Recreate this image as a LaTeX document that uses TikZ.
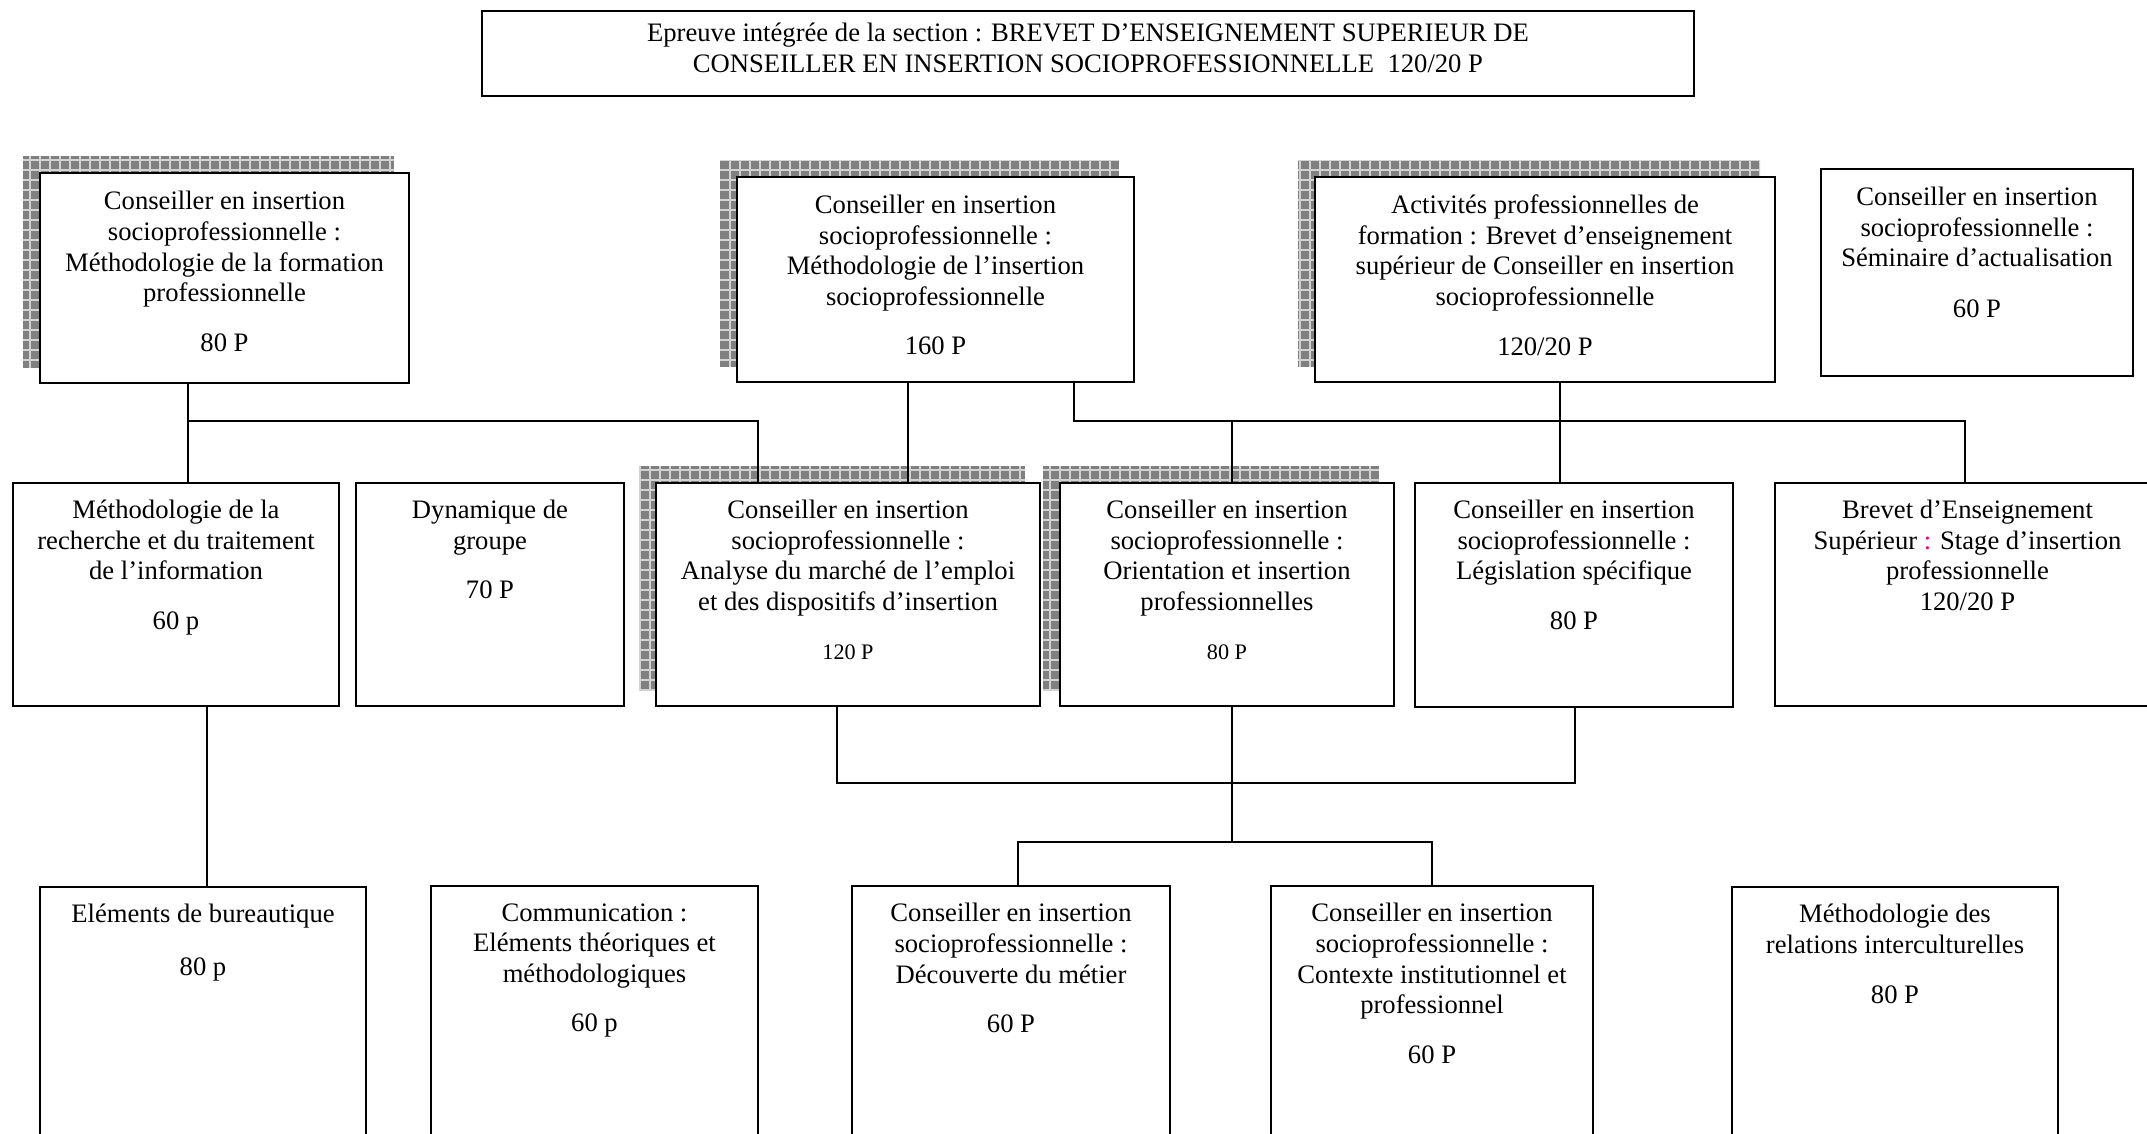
\documentclass[tikz,border=0pt]{standalone}
\usepackage{fontspec}
\setmainfont{Liberation Serif}
\usepackage{tikz}
\usetikzlibrary{fit,backgrounds}

\tikzset{
  boite/.style={draw, fill=white, line width=0.9pt, inner sep=0pt},
  texte/.style={anchor=north, align=center, inner sep=0pt, font=\fontsize{12}{13.8}\selectfont, execute at begin node=\strut},
  lien/.style={line width=0.8pt},
  ombre/.style={fill=gray},
  grille/.style={draw=gray!35, line width=0.5pt}
}

\begin{document}
\begin{tikzpicture}[x=0.4505pt, y=-0.4505pt]
	\useasboundingbox (0,0) rectangle (2147,1133);
	\clip (0,0) rectangle (2147,1133);

	% title
	\node[boite, line width=1pt, fit={(482,11) (1694,96)}] (T) {};
	\node[texte, anchor=center] (Tt) at ([shift={(0,-1)}]T.center) {Epreuve intégrée de la section : BREVET D’ENSEIGNEMENT SUPERIEUR DE\\ CONSEILLER EN INSERTION SOCIOPROFESSIONNELLE\ \ 120/20 P};

	% first row
	\node[boite, fit={(40,173) (409,383)}] (A) {};
	\node[boite, fit={(737,177) (1134,382)}] (B) {};
	\node[boite, fit={(1315,177) (1775,382)}] (C) {};
	\node[boite, fit={(1821,169) (2133,376)}] (D) {};
	\node[texte] (At) at ([shift={(0,19)}]A.north) {Conseiller en insertion\\ socioprofessionnelle :\\ Méthodologie de la formation\\ professionnelle\\[8.5pt] 80 P};
	\node[texte] (Bt) at ([shift={(0,18.5)}]B.north) {Conseiller en insertion\\ socioprofessionnelle :\\ Méthodologie de l’insertion\\ socioprofessionnelle\\[8.5pt] 160 P};
	\node[texte] (Ct) at ([shift={(0,18.5)}]C.north) {Activités professionnelles de\\ formation : Brevet d’enseignement\\ supérieur de Conseiller en insertion\\ socioprofessionnelle\\[8.5pt] 120/20 P};
	\node[texte] (Dt) at ([shift={(0,18.5)}]D.north) {Conseiller en insertion\\ socioprofessionnelle :\\ Séminaire d’actualisation\\[9pt] 60 P};

	% second row
	\node[boite, fit={(13,483) (339,706)}] (M1) {};
	\node[boite, fit={(356,483) (624,706)}] (M2) {};
	\node[boite, fit={(656,483) (1040,706)}] (M3) {};
	\node[boite, fit={(1060,483) (1394,706)}] (M4) {};
	\node[boite, fit={(1415,483) (1733,707)}] (M5) {};
	\node[boite, fit={(1775,483) (2160,706)}] (M6) {};
	\node[texte] (M1t) at ([shift={(0,17.5)}]M1.north) {Méthodologie de la\\ recherche et du traitement\\ de l’information\\[8.5pt] 60 p};
	\node[texte] (M2t) at ([shift={(0,17.5)}]M2.north) {Dynamique de\\ groupe\\[8.5pt] 70 P};
	\node[texte] (M3t) at ([shift={(0,17.5)}]M3.north) {Conseiller en insertion\\ socioprofessionnelle :\\ Analyse du marché de l’emploi\\ et des dispositifs d’insertion\\[8.5pt] {\fontsize{10}{12}\selectfont 120 P}};
	\node[texte] (M4t) at ([shift={(0,17.5)}]M4.north) {Conseiller en insertion\\ socioprofessionnelle :\\ Orientation et insertion\\ professionnelles\\[8.5pt] {\fontsize{10}{12}\selectfont 80 P}};
	\node[texte] (M5t) at ([shift={(0,17.5)}]M5.north) {Conseiller en insertion\\ socioprofessionnelle :\\ Législation spécifique\\[8.5pt] 80 P};
	\node[texte] (M6t) at ([shift={(0,17.5)}]M6.north) {Brevet d’Enseignement\\ Supérieur {\color{magenta}:} Stage d’insertion\\ professionnelle\\ 120/20 P};

	% third row
	\node[boite, fit={(40,887) (366,1160)}] (B1) {};
	\node[boite, fit={(431,886) (758,1160)}] (B2) {};
	\node[boite, fit={(852,886) (1170,1160)}] (B3) {};
	\node[boite, fit={(1271,886) (1593,1160)}] (B4) {};
	\node[boite, fit={(1732,887) (2058,1160)}] (B5) {};
	\node[texte] (B1t) at ([shift={(0,18)}]B1.north) {Eléments de bureautique\\[10pt] 80 p};
	\node[texte] (B2t) at ([shift={(0,18)}]B2.north) {Communication :\\ Eléments théoriques et\\ méthodologiques\\[8.5pt] 60 p};
	\node[texte] (B3t) at ([shift={(0,18)}]B3.north) {Conseiller en insertion\\ socioprofessionnelle :\\ Découverte du métier\\[8.5pt] 60 P};
	\node[texte] (B4t) at ([shift={(0,18)}]B4.north) {Conseiller en insertion\\ socioprofessionnelle :\\ Contexte institutionnel et\\ professionnel\\[8.5pt] 60 P};
	\node[texte] (B5t) at ([shift={(0,18)}]B5.north) {Méthodologie des\\ relations interculturelles\\[8.5pt] 80 P};

	% shadows
	\begin{scope}[on background layer]
		\foreach \n in {A,B,C,M3,M4} {
			\begin{scope}
				\clip ([shift={(-16,-16)}]\n.south west) rectangle ([shift={(-16,-16)}]\n.north east);
				\fill[ombre] ([shift={(-16,-16)}]\n.south west) rectangle ([shift={(-16,-16)}]\n.north east);
				\draw[grille, step=4.505pt] ([shift={(-16,-16)}]\n.south west) grid ([shift={(-16,-16)}]\n.north east);
			\end{scope}
		}
	\end{scope}

	% joints
	\coordinate (jA) at (188,421);
	\coordinate (jA3) at (758,421);
	\coordinate (jB) at (908,421);
	\coordinate (jB1) at (1074,421);
	\coordinate (jB4) at (1232,421);
	\coordinate (jB6) at (1965,421);
	\coordinate (jC) at (1560,421);
	\coordinate (jM1) at (207,800);
	\coordinate (jM3) at (837,783);
	\coordinate (jM5) at (1575,783);
	\coordinate (jD) at (1232,842);
	\coordinate (jD3) at (1018,842);
	\coordinate (jD4) at (1432,842);

	% connectors
	\draw[lien] (A.south -| jA) -- (M1.north -| jA);
	\draw[lien] (jA) -- (jA3) -- (M3.north -| jA3);
	\draw[lien] (B.south -| jB) -- (M3.north -| jB);
	\draw[lien] (B.south -| jB1) -- (jB1) -- (jB6) -- (M6.north -| jB6);
	\draw[lien] (jB4) -- (M4.north -| jB4);
	\draw[lien] (C.south -| jC) -- (M5.north -| jC);
	\draw[lien] (M1.south -| jM1) -- (B1.north -| jM1);
	\draw[lien] (M3.south -| jM3) -- (jM3) -- (jM5) -- (M5.south -| jM5);
	\draw[lien] (M4.south -| jD) -- (jD);
	\draw[lien] (B3.north -| jD3) -- (jD3) -- (jD4) -- (B4.north -| jD4);
\end{tikzpicture}
\end{document}
